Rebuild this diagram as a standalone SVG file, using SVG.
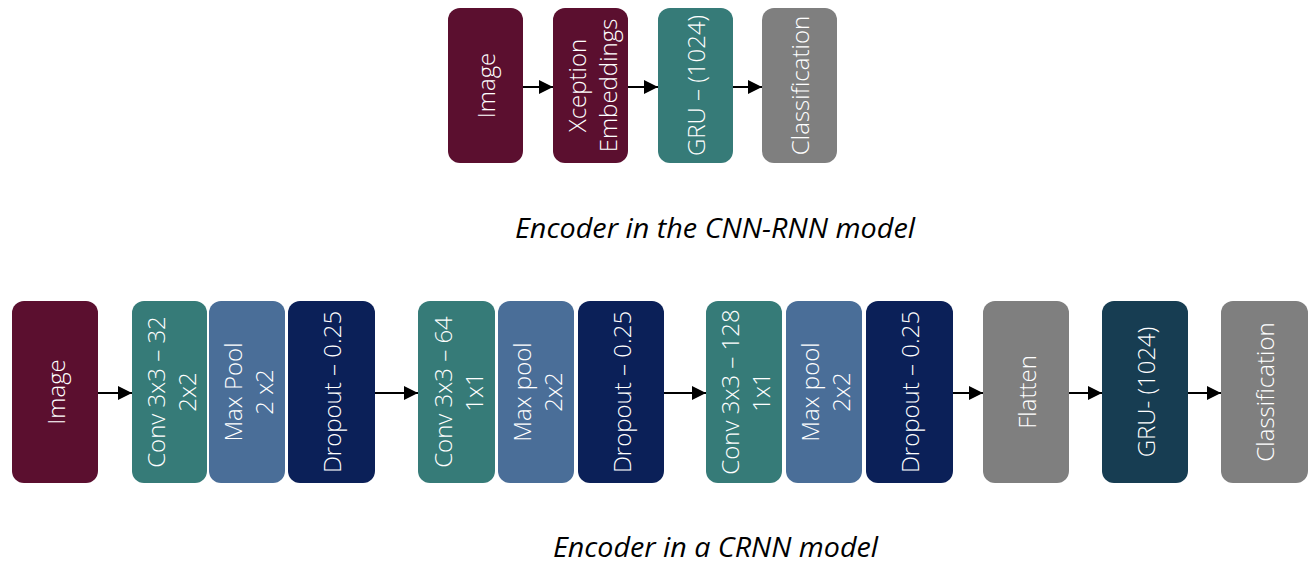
<svg xmlns="http://www.w3.org/2000/svg" width="1309" height="566" viewBox="0 0 1309 566">
  <defs>
    <marker id="arrow" viewBox="0 0 10 10" refX="10" refY="5" markerWidth="7" markerHeight="7" markerUnits="strokeWidth" orient="auto">
      <path d="M0,0 L10,5 L0,10 Z" fill="#000"/>
    </marker>
    <style>
      .box { rx: 12px; ry: 12px; }
      .maroon { fill: #5b0f2f; }
      .teal { fill: #367b78; }
      .slate { fill: #4a6e98; }
      .navy { fill: #0b2058; }
      .gray { fill: #7f7f7f; }
      .deep { fill: #173d52; }
      .lbl { font-family: "Open Sans", "Noto Sans", "DejaVu Sans", sans-serif; font-size: 24px; font-weight: 300; fill: #fff; text-anchor: middle; dominant-baseline: central; }
      .cap { font-family: "Open Sans", "Noto Sans", "DejaVu Sans", sans-serif; font-size: 27px; font-style: italic; fill: #000; text-anchor: middle; }
      .edge { stroke: #000; stroke-width: 2; fill: none; marker-end: url(#arrow); }
    </style>
  </defs>
  <rect width="1309" height="566" fill="#fff"/>

  <!-- CNN-RNN encoder -->
  <g id="top-image">
    <rect class="box maroon" x="448" y="8" width="75" height="155"/>
    <text class="lbl" transform="translate(485.5,85.5) rotate(-90)">Image</text>
  </g>
  <g id="top-xception">
    <rect class="box maroon" x="553" y="8" width="75" height="155"/>
    <text class="lbl" transform="translate(590.5,85.5) rotate(-90)"><tspan x="0" y="-15">Xception</tspan><tspan x="0" y="16">Embeddings</tspan></text>
  </g>
  <g id="top-gru">
    <rect class="box teal" x="658" y="8" width="75" height="155"/>
    <text class="lbl" transform="translate(695.5,85.5) rotate(-90)">GRU – (1024)</text>
  </g>
  <g id="top-class">
    <rect class="box gray" x="762" y="8" width="75" height="155"/>
    <text class="lbl" transform="translate(799.5,85.5) rotate(-90)">Classification</text>
  </g>
  <text id="caption-top" class="cap" x="715" y="238" textLength="400" lengthAdjust="spacingAndGlyphs">Encoder in the CNN-RNN model</text>

  <!-- CRNN encoder -->
  <g id="image">
    <rect class="box maroon" x="12" y="301" width="86" height="182"/>
    <text class="lbl" transform="translate(55,392) rotate(-90)">Image</text>
  </g>
  <g id="conv1">
    <rect class="box teal" x="132" y="301" width="75" height="182"/>
    <text class="lbl" transform="translate(169.5,392) rotate(-90)"><tspan x="0" y="-15">Conv 3x3 – 32</tspan><tspan x="0" y="16">2x2</tspan></text>
  </g>
  <g id="pool1">
    <rect class="box slate" x="209" y="301" width="76" height="182"/>
    <text class="lbl" transform="translate(247,392) rotate(-90)"><tspan x="0" y="-15">Max Pool</tspan><tspan x="0" y="16">2 x2</tspan></text>
  </g>
  <g id="drop1">
    <rect class="box navy" x="288" y="301" width="87" height="182"/>
    <text class="lbl" transform="translate(331.5,392) rotate(-90)">Dropout – 0.25</text>
  </g>
  <g id="conv2">
    <rect class="box teal" x="418" y="301" width="77" height="182"/>
    <text class="lbl" transform="translate(456.5,392) rotate(-90)"><tspan x="0" y="-15">Conv 3x3 – 64</tspan><tspan x="0" y="16">1x1</tspan></text>
  </g>
  <g id="pool2">
    <rect class="box slate" x="498" y="301" width="76" height="182"/>
    <text class="lbl" transform="translate(536,392) rotate(-90)"><tspan x="0" y="-15">Max pool</tspan><tspan x="0" y="16">2x2</tspan></text>
  </g>
  <g id="drop2">
    <rect class="box navy" x="578" y="301" width="86" height="182"/>
    <text class="lbl" transform="translate(621,392) rotate(-90)">Dropout – 0.25</text>
  </g>
  <g id="conv3">
    <rect class="box teal" x="706" y="301" width="76" height="182"/>
    <text class="lbl" transform="translate(744,392) rotate(-90)"><tspan x="0" y="-15">Conv 3x3 – 128</tspan><tspan x="0" y="16">1x1</tspan></text>
  </g>
  <g id="pool3">
    <rect class="box slate" x="786" y="301" width="76" height="182"/>
    <text class="lbl" transform="translate(824,392) rotate(-90)"><tspan x="0" y="-15">Max pool</tspan><tspan x="0" y="16">2x2</tspan></text>
  </g>
  <g id="drop3">
    <rect class="box navy" x="866" y="301" width="87" height="182"/>
    <text class="lbl" transform="translate(909.5,392) rotate(-90)">Dropout – 0.25</text>
  </g>
  <g id="flatten">
    <rect class="box gray" x="983" y="301" width="86" height="182"/>
    <text class="lbl" transform="translate(1026,392) rotate(-90)">Flatten</text>
  </g>
  <g id="gru">
    <rect class="box deep" x="1102" y="301" width="86" height="182"/>
    <text class="lbl" transform="translate(1145,392) rotate(-90)">GRU- (1024)</text>
  </g>
  <g id="classification">
    <rect class="box gray" x="1221" y="301" width="87" height="182"/>
    <text class="lbl" transform="translate(1264.5,392) rotate(-90)">Classification</text>
  </g>
  <text id="caption-bottom" class="cap" x="715.5" y="557" textLength="325" lengthAdjust="spacingAndGlyphs">Encoder in a CRNN model</text>

  <g id="connectors">
    <line class="edge" x1="523" y1="87" x2="553" y2="87"/>
    <line class="edge" x1="628" y1="87" x2="658" y2="87"/>
    <line class="edge" x1="733" y1="87" x2="762" y2="87"/>
    <line class="edge" x1="98" y1="393" x2="132" y2="393"/>
    <line class="edge" x1="375" y1="393" x2="418" y2="393"/>
    <line class="edge" x1="664" y1="393" x2="706" y2="393"/>
    <line class="edge" x1="953" y1="393" x2="983" y2="393"/>
    <line class="edge" x1="1069" y1="393" x2="1102" y2="393"/>
    <line class="edge" x1="1188" y1="393" x2="1221" y2="393"/>
  </g>
</svg>
